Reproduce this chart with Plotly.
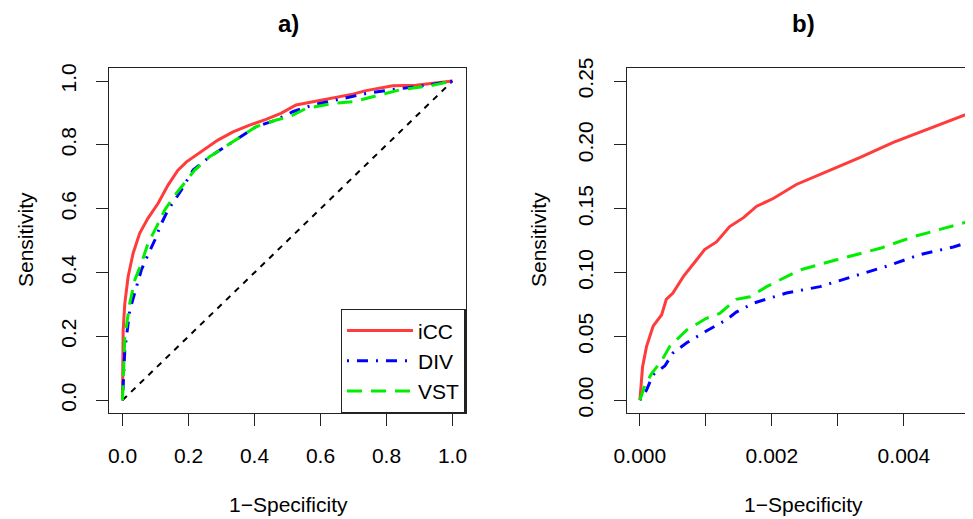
import plotly.graph_objects as go

# panel a) full ROC
a_icc_x = [0, 0.0, 0.002, 0.007, 0.017, 0.032, 0.052, 0.077, 0.108, 0.138, 0.168, 0.194, 0.224, 0.254,
           0.289, 0.335, 0.385, 0.435, 0.48, 0.526, 0.577, 0.637, 0.698, 0.738, 0.819, 0.889, 0.94, 1.0]
a_icc_y = [0, 0.094, 0.22, 0.303, 0.387, 0.46, 0.523, 0.57, 0.617, 0.674, 0.721, 0.747, 0.768, 0.789,
           0.815, 0.841, 0.862, 0.88, 0.899, 0.925, 0.935, 0.949, 0.959, 0.97, 0.985, 0.987, 0.993, 1.0]
a_div_x = [0, 0.003, 0.007, 0.022, 0.037, 0.057, 0.077, 0.098, 0.118, 0.138, 0.178, 0.214, 0.264, 0.335,
           0.405, 0.466, 0.516, 0.577, 0.657, 0.738, 0.808, 0.889, 1.0]
a_div_y = [0, 0.07, 0.157, 0.282, 0.334, 0.408, 0.455, 0.502, 0.554, 0.596, 0.658, 0.721, 0.763, 0.81,
           0.857, 0.878, 0.904, 0.925, 0.943, 0.961, 0.972, 0.982, 1.0]
a_vst_x = [0, 0.003, 0.007, 0.022, 0.037, 0.057, 0.077, 0.103, 0.128, 0.163, 0.194, 0.219, 0.264, 0.335,
           0.405, 0.466, 0.506, 0.556, 0.637, 0.698, 0.758, 0.839, 0.94, 1.0]
a_vst_y = [0, 0.09, 0.198, 0.303, 0.376, 0.428, 0.491, 0.543, 0.596, 0.648, 0.69, 0.721, 0.763, 0.81,
           0.857, 0.878, 0.888, 0.914, 0.93, 0.935, 0.951, 0.972, 0.987, 1.0]
diag = [0, 1]

# panel b) zoom on low false positive rate
b_icc_x = [0, 0.00004, 0.0001, 0.0002, 0.00033, 0.0004, 0.0005, 0.00066, 0.00086, 0.00098, 0.00116,
           0.00136, 0.00157, 0.00177, 0.00202, 0.00237, 0.00283, 0.00333, 0.00384, 0.00439, 0.00505]
b_icc_y = [0, 0.026, 0.042, 0.058, 0.067, 0.079, 0.084, 0.097, 0.110, 0.118, 0.124,
           0.136, 0.143, 0.152, 0.158, 0.169, 0.179, 0.190, 0.202, 0.213, 0.226]
b_div_x = [0, 0.0001, 0.0002, 0.00038, 0.0005, 0.00071, 0.001, 0.00131, 0.00146, 0.00172, 0.00222,
           0.00273, 0.00323, 0.00374, 0.00424, 0.00475, 0.00505]
b_div_y = [0, 0.008, 0.020, 0.027, 0.037, 0.045, 0.054, 0.063, 0.069, 0.076, 0.084,
           0.089, 0.097, 0.105, 0.114, 0.120, 0.125]
b_vst_x = [0, 0.000076, 0.00018, 0.00033, 0.00045, 0.00071, 0.001, 0.00121, 0.00146, 0.00167, 0.00192,
           0.00242, 0.00298, 0.00364, 0.00414, 0.00455, 0.00505]
b_vst_y = [0, 0.012, 0.021, 0.031, 0.042, 0.055, 0.064, 0.068, 0.079, 0.081, 0.089,
           0.102, 0.110, 0.119, 0.128, 0.134, 0.141]

a_ticks = [0, 0.2, 0.4, 0.6, 0.8, 1.0]
a_labels = ["0.0", "0.2", "0.4", "0.6", "0.8", "1.0"]
bx_ticks = [0, 0.001, 0.002, 0.003, 0.004, 0.005]
bx_labels = ["0.000", "", "0.002", "", "0.004", ""]
by_ticks = [0, 0.05, 0.10, 0.15, 0.20, 0.25]
by_labels = ["0.00", "0.05", "0.10", "0.15", "0.20", "0.25"]

RED = "#FF3B3B"
BLUE = "#0000FF"
GREEN = "#00EE00"
# page body has an 8px margin, so the figure is 8px smaller than the window
OFF = 8
W, H = 973 - OFF, 519 - OFF
FONT = "Liberation Sans, Arial, sans-serif"

fig = go.Figure()
styles = [
    ("iCC", RED, "solid"),
    ("DIV", BLUE, "2px,8px,11px,8px"),
    ("VST", GREEN, "15px,9px"),
]
a_data = [(a_icc_x, a_icc_y), (a_div_x, a_div_y), (a_vst_x, a_vst_y)]
b_data = [(b_icc_x, b_icc_y), (b_div_x, b_div_y), (b_vst_x, b_vst_y)]

fig.add_scatter(x=diag, y=diag, mode="lines", showlegend=False, hoverinfo="skip",
                line=dict(color="black", width=2, dash="6px,6px"), xaxis="x", yaxis="y")
for (name, col, dash), (x, y) in zip(styles, a_data):
    fig.add_scatter(x=x, y=y, mode="lines", name=name, line=dict(color=col, width=3, dash=dash),
                    xaxis="x", yaxis="y")
for (name, col, dash), (x, y) in zip(styles, b_data):
    fig.add_scatter(x=x, y=y, mode="lines", name=name, showlegend=False,
                    line=dict(color=col, width=3, dash=dash), xaxis="x2", yaxis="y2")

# window pixel -> paper fraction
px = lambda v: (v - OFF) / W
py = lambda v: (H - (v - OFF)) / H

ax_common = dict(showline=True, linecolor="#222", linewidth=1.3, ticks="outside", ticklen=12,
                 tickwidth=1.3, tickcolor="#222", showgrid=False, zeroline=False, automargin=False,
                 tickfont=dict(size=21, color="black", family=FONT), ticklabelstandoff=12)

fig.update_layout(
    width=W, height=H, margin=dict(l=0, r=0, t=0, b=0),
    plot_bgcolor="white", paper_bgcolor="white",
    font=dict(family=FONT, size=21, color="black"),
    xaxis=dict(domain=[px(109.3), px(465.7)], range=[-0.04, 1.04], tickvals=a_ticks, ticktext=a_labels,
               mirror=True, anchor="y", **ax_common),
    yaxis=dict(domain=[py(413), py(68.3)], range=[-0.04, 1.04], tickvals=a_ticks, ticktext=a_labels,
               tickangle=-90, mirror=True, anchor="x", **ax_common),
    xaxis2=dict(domain=[px(626.7), 1.0], range=[-0.0002, 0.005047], tickvals=bx_ticks, ticktext=bx_labels,
                mirror=True, anchor="y2", **ax_common),
    yaxis2=dict(domain=[py(413), py(68.3)], range=[-0.01, 0.26], tickvals=by_ticks, ticktext=by_labels,
                tickangle=-90, mirror=False, anchor="x2", **ax_common),
    legend=dict(x=px(465.7), y=py(413), xanchor="right", yanchor="bottom",
                bordercolor="#222", borderwidth=1.3, bgcolor="white",
                font=dict(size=21, family=FONT), itemwidth=66, tracegroupgap=0),
    showlegend=True,
)

annots = [
    ("<b>a)</b>", px(288), 1.0, 24, 0, "top"),
    ("<b>b)</b>", px(803), 1.0, 24, 0, "top"),
    ("1\u2212Specificity", px(288), py(504), 21, 0, "middle"),
    ("1\u2212Specificity", px(803), py(504), 21, 0, "middle"),
    ("Sensitivity", px(25), py(240), 21, -90, "middle"),
    ("Sensitivity", px(538), py(240), 21, -90, "middle"),
]
for text, x, y, size, ang, va in annots:
    fig.add_annotation(text=text, x=x, y=y, xref="paper", yref="paper", showarrow=False,
                       xanchor="center", yanchor=va, textangle=ang,
                       font=dict(size=size, family=FONT, color="black"))

fig.write_html("out.html")
